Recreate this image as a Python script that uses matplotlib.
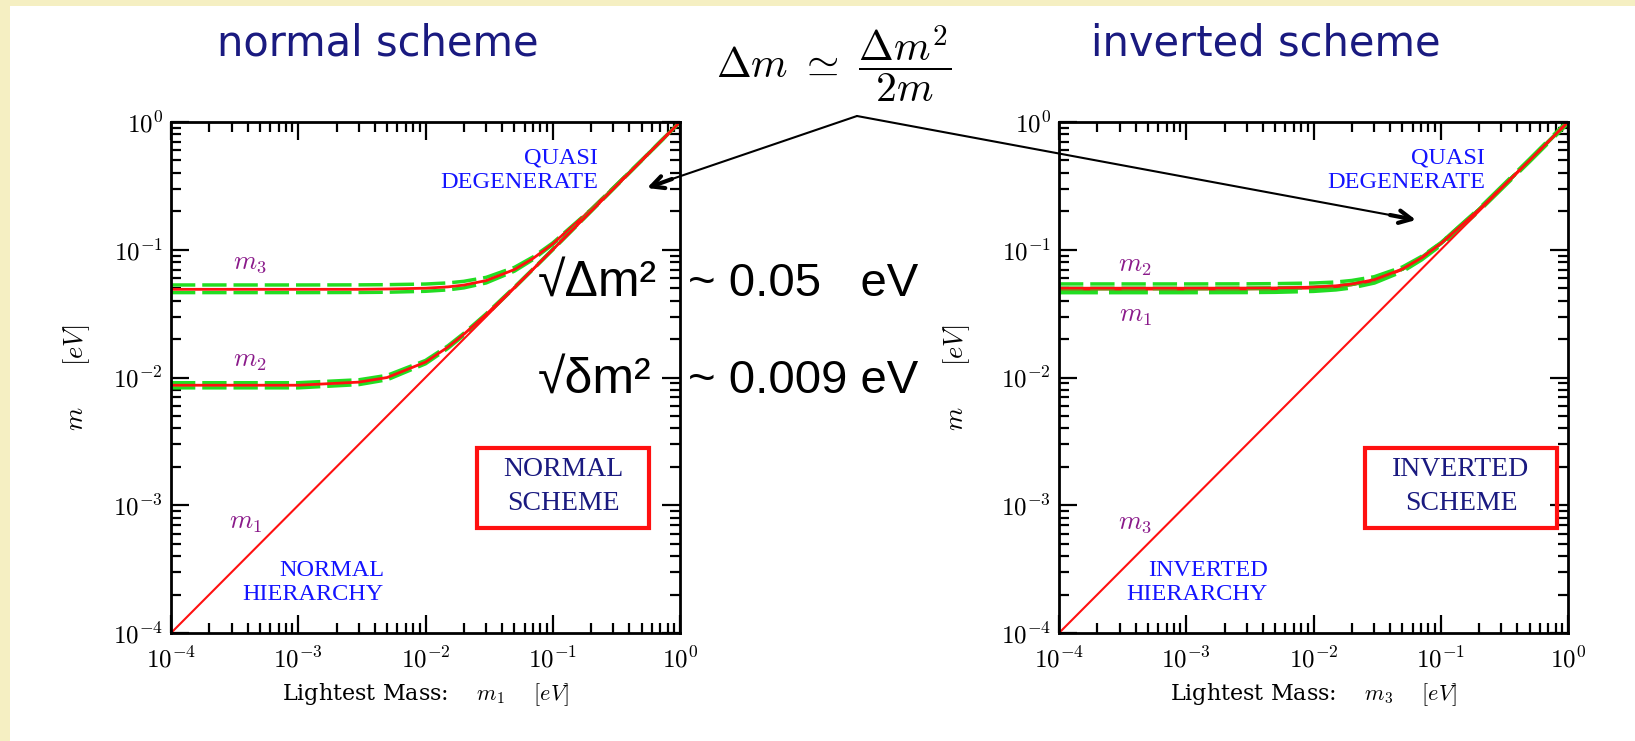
import numpy as np
import matplotlib.pyplot as plt
from matplotlib.ticker import FuncFormatter, NullFormatter
from matplotlib.patches import Rectangle

plt.rcParams['mathtext.fontset'] = 'cm'

# lightest neutrino mass [eV] (x axis, both panels)
lightest = [1e-4, 1e-3, 3e-3, 5e-3, 1e-2, 1.5e-2, 2e-2, 3e-2, 5e-2, 7e-2, 0.1, 0.2, 0.5, 1.0]

# normal scheme
nh_m2 = [0.0087, 0.0087, 0.0092, 0.0100, 0.0132, 0.0173, 0.0218, 0.0312, 0.0507, 0.0705, 0.1004, 0.2002, 0.500, 1.0]
nh_m2_hi = [0.0091, 0.0091, 0.0096, 0.0104, 0.0136, 0.0177, 0.0222, 0.0316, 0.0511, 0.0709, 0.1010, 0.2010, 0.501, 1.0]
nh_m2_lo = [0.0083, 0.0083, 0.0088, 0.0096, 0.0128, 0.0169, 0.0214, 0.0308, 0.0503, 0.0701, 0.0998, 0.1995, 0.499, 1.0]
nh_m3 = [0.0490, 0.0490, 0.0490, 0.0493, 0.0500, 0.0512, 0.0529, 0.0574, 0.0700, 0.0855, 0.1113, 0.2060, 0.5024, 1.0]
nh_m3_hi = [0.0530, 0.0530, 0.0531, 0.0533, 0.0539, 0.0550, 0.0566, 0.0608, 0.0728, 0.0878, 0.1131, 0.2070, 0.5028, 1.0]
nh_m3_lo = [0.0462, 0.0462, 0.0463, 0.0465, 0.0473, 0.0485, 0.0503, 0.0550, 0.0680, 0.0838, 0.1100, 0.2052, 0.5020, 1.0]

# inverted scheme
ih_m1 = [0.0492, 0.0492, 0.0493, 0.0495, 0.0502, 0.0514, 0.0531, 0.0576, 0.0701, 0.0856, 0.1115, 0.2060, 0.5024, 1.0]
ih_m1_hi = [0.0500, 0.0500, 0.0501, 0.0503, 0.0510, 0.0522, 0.0539, 0.0583, 0.0707, 0.0861, 0.1119, 0.2063, 0.5025, 1.0]
ih_m1_lo = [0.0470, 0.0470, 0.0471, 0.0473, 0.0481, 0.0494, 0.0512, 0.0559, 0.0688, 0.0846, 0.1105, 0.2054, 0.5020, 1.0]
ih_m2 = [0.0500, 0.0500, 0.0501, 0.0502, 0.0510, 0.0522, 0.0539, 0.0583, 0.0707, 0.0860, 0.1118, 0.2062, 0.5025, 1.0]
ih_m2_hi = [0.0540, 0.0540, 0.0541, 0.0543, 0.0549, 0.0559, 0.0575, 0.0615, 0.0733, 0.0882, 0.1135, 0.2071, 0.5029, 1.0]
ih_m2_lo = [0.0496, 0.0496, 0.0497, 0.0499, 0.0506, 0.0518, 0.0535, 0.0580, 0.0704, 0.0858, 0.1116, 0.2061, 0.5024, 1.0]

RED = '#ff1010'
GREEN = '#22dd22'
NAVY = '#1a1a80'
BLUE = '#1414ff'
PURPLE = '#8a1a8a'

W, H = 1635, 741
fig = plt.figure(figsize=(W / 100, H / 100), dpi=100)
fig.patch.set_facecolor('white')


def px_rect(x0, y0, x1, y1):
    return [x0 / W, 1 - y1 / H, (x1 - x0) / W, (y1 - y0) / H]


def mass_axes(rect):
    ax = fig.add_axes(rect)
    ax.set_xscale('log')
    ax.set_yscale('log')
    ax.set_xlim(1e-4, 1)
    ax.set_ylim(1e-4, 1)
    for s in ax.spines.values():
        s.set_linewidth(2)
    ax.tick_params(which='both', direction='in', top=True, right=True, width=1.6)
    ax.tick_params(which='major', length=13, labelsize=18, pad=6)
    ax.tick_params(axis='x', which='major', pad=10)
    ax.tick_params(which='minor', length=7)
    fmt = FuncFormatter(lambda v, p: r'$10^{%d}$' % int(round(np.log10(v))))
    ax.xaxis.set_major_formatter(fmt)
    ax.yaxis.set_major_formatter(fmt)
    ax.xaxis.set_minor_formatter(NullFormatter())
    ax.yaxis.set_minor_formatter(NullFormatter())
    return ax


def band(ax, center, hi, lo, lw_lo=2.5):
    ax.plot(lightest, hi, color=GREEN, lw=2.5, ls=(0, (7, 2)))
    ax.plot(lightest, lo, color=GREEN, lw=lw_lo, ls=(0, (7, 2)))
    ax.plot(lightest, center, color=RED, lw=2)


ax1 = mass_axes(px_rect(171, 122, 680, 633))
band(ax1, nh_m3, nh_m3_hi, nh_m3_lo)
band(ax1, nh_m2, nh_m2_hi, nh_m2_lo)
ax1.plot(lightest, lightest, color=RED, lw=1.5)

ax2 = mass_axes(px_rect(1059, 122, 1568, 633))
band(ax2, ih_m1, ih_m1_hi, ih_m1_lo, lw_lo=4)
band(ax2, ih_m2, ih_m2_hi, ih_m2_lo)
ax2.plot(lightest, lightest, color=RED, lw=1.5)

for ax, x0, lx, sub in [(ax1, 171, 92, '1'), (ax2, 1059, 972, '3')]:
    ax.set_ylabel(r'$m$     $[eV]$', fontsize=19)
    ax.yaxis.set_label_coords((lx - x0) / 509, 0.5)
    ax.text(0.5, -0.121, r'Lightest Mass:    $m_%s$    $[eV]$' % sub,
            transform=ax.transAxes, ha='center', va='center',
            family='DejaVu Serif', fontsize=16, math_fontfamily='cm')

# overlay in pixel coordinates for titles and annotations
ov = fig.add_axes([0, 0, 1, 1], zorder=10)
ov.set_xlim(0, W)
ov.set_ylim(H, 0)
ov.axis('off')
ov.patch.set_alpha(0)

ov.add_patch(Rectangle((0, 0), W, 6, color='#f5efc2', lw=0))
ov.add_patch(Rectangle((0, 0), 10, H, color='#f5efc2', lw=0))

ov.text(378, 44, 'normal scheme', ha='center', va='center', fontsize=30,
        color=NAVY, family='DejaVu Sans')
ov.text(1266, 44, 'inverted scheme', ha='center', va='center', fontsize=30,
        color=NAVY, family='DejaVu Sans')

ov.text(834, 64, r'$\Delta m\ \simeq\ \dfrac{\Delta m^2}{2m}$', ha='center',
        va='center', fontsize=30)

apex = (857, 116)
for tip, back in [((647, 188), (672, 179)), ((1416, 220), (1390, 215))]:
    ov.annotate('', xy=back, xytext=apex,
                arrowprops=dict(arrowstyle='-', lw=1.5, color='black', shrinkA=0, shrinkB=0))
    ov.annotate('', xy=tip, xytext=back,
                arrowprops=dict(arrowstyle='->,head_length=0.9,head_width=0.45',
                                lw=3, color='black', shrinkA=0, shrinkB=0))

sans = 'Liberation Sans'
ov.text(538, 296, '\u221a\u0394m\u00b2', fontsize=36, family=sans, va='baseline')
ov.text(688, 296, '~ 0.05   eV', fontsize=34, family=sans, va='baseline')
ov.text(538, 393, '\u221a\u03b4m\u00b2', fontsize=36, family=sans, va='baseline')
ov.text(688, 393, '~ 0.009 eV', fontsize=34, family=sans, va='baseline')

serif = 'Liberation Serif'
# in-panel labels
for x, y, s in [(598, 158, 'QUASI'), (598, 183, 'DEGENERATE'),
                (384, 570, 'NORMAL'), (384, 595, 'HIERARCHY'),
                (1485, 158, 'QUASI'), (1485, 183, 'DEGENERATE'),
                (1268, 570, 'INVERTED'), (1268, 595, 'HIERARCHY')]:
    ov.text(x, y, s, ha='right', va='center', fontsize=17.5, family=serif, color=BLUE)

for x, y, s in [(250, 262, '3'), (250, 360, '2'), (245, 522, '1'),
                (1135, 265, '2'), (1135, 315, '1'), (1135, 522, '3')]:
    ov.text(x, y, r'$m_%s$' % s, ha='center', va='center', fontsize=19, color=PURPLE)

for x0, x1, l1, l2 in [(477, 649, 'NORMAL', 'SCHEME'), (1365, 1557, 'INVERTED', 'SCHEME')]:
    ov.add_patch(Rectangle((x0, 448), x1 - x0, 80, fill=False, ec=RED, lw=3))
    ov.text((x0 + x1) / 2, 470, l1, ha='center', va='center', fontsize=20,
            family=serif, color=NAVY)
    ov.text((x0 + x1) / 2, 503, l2, ha='center', va='center', fontsize=20,
            family=serif, color=NAVY)

fig.savefig('out.png', dpi=100)
